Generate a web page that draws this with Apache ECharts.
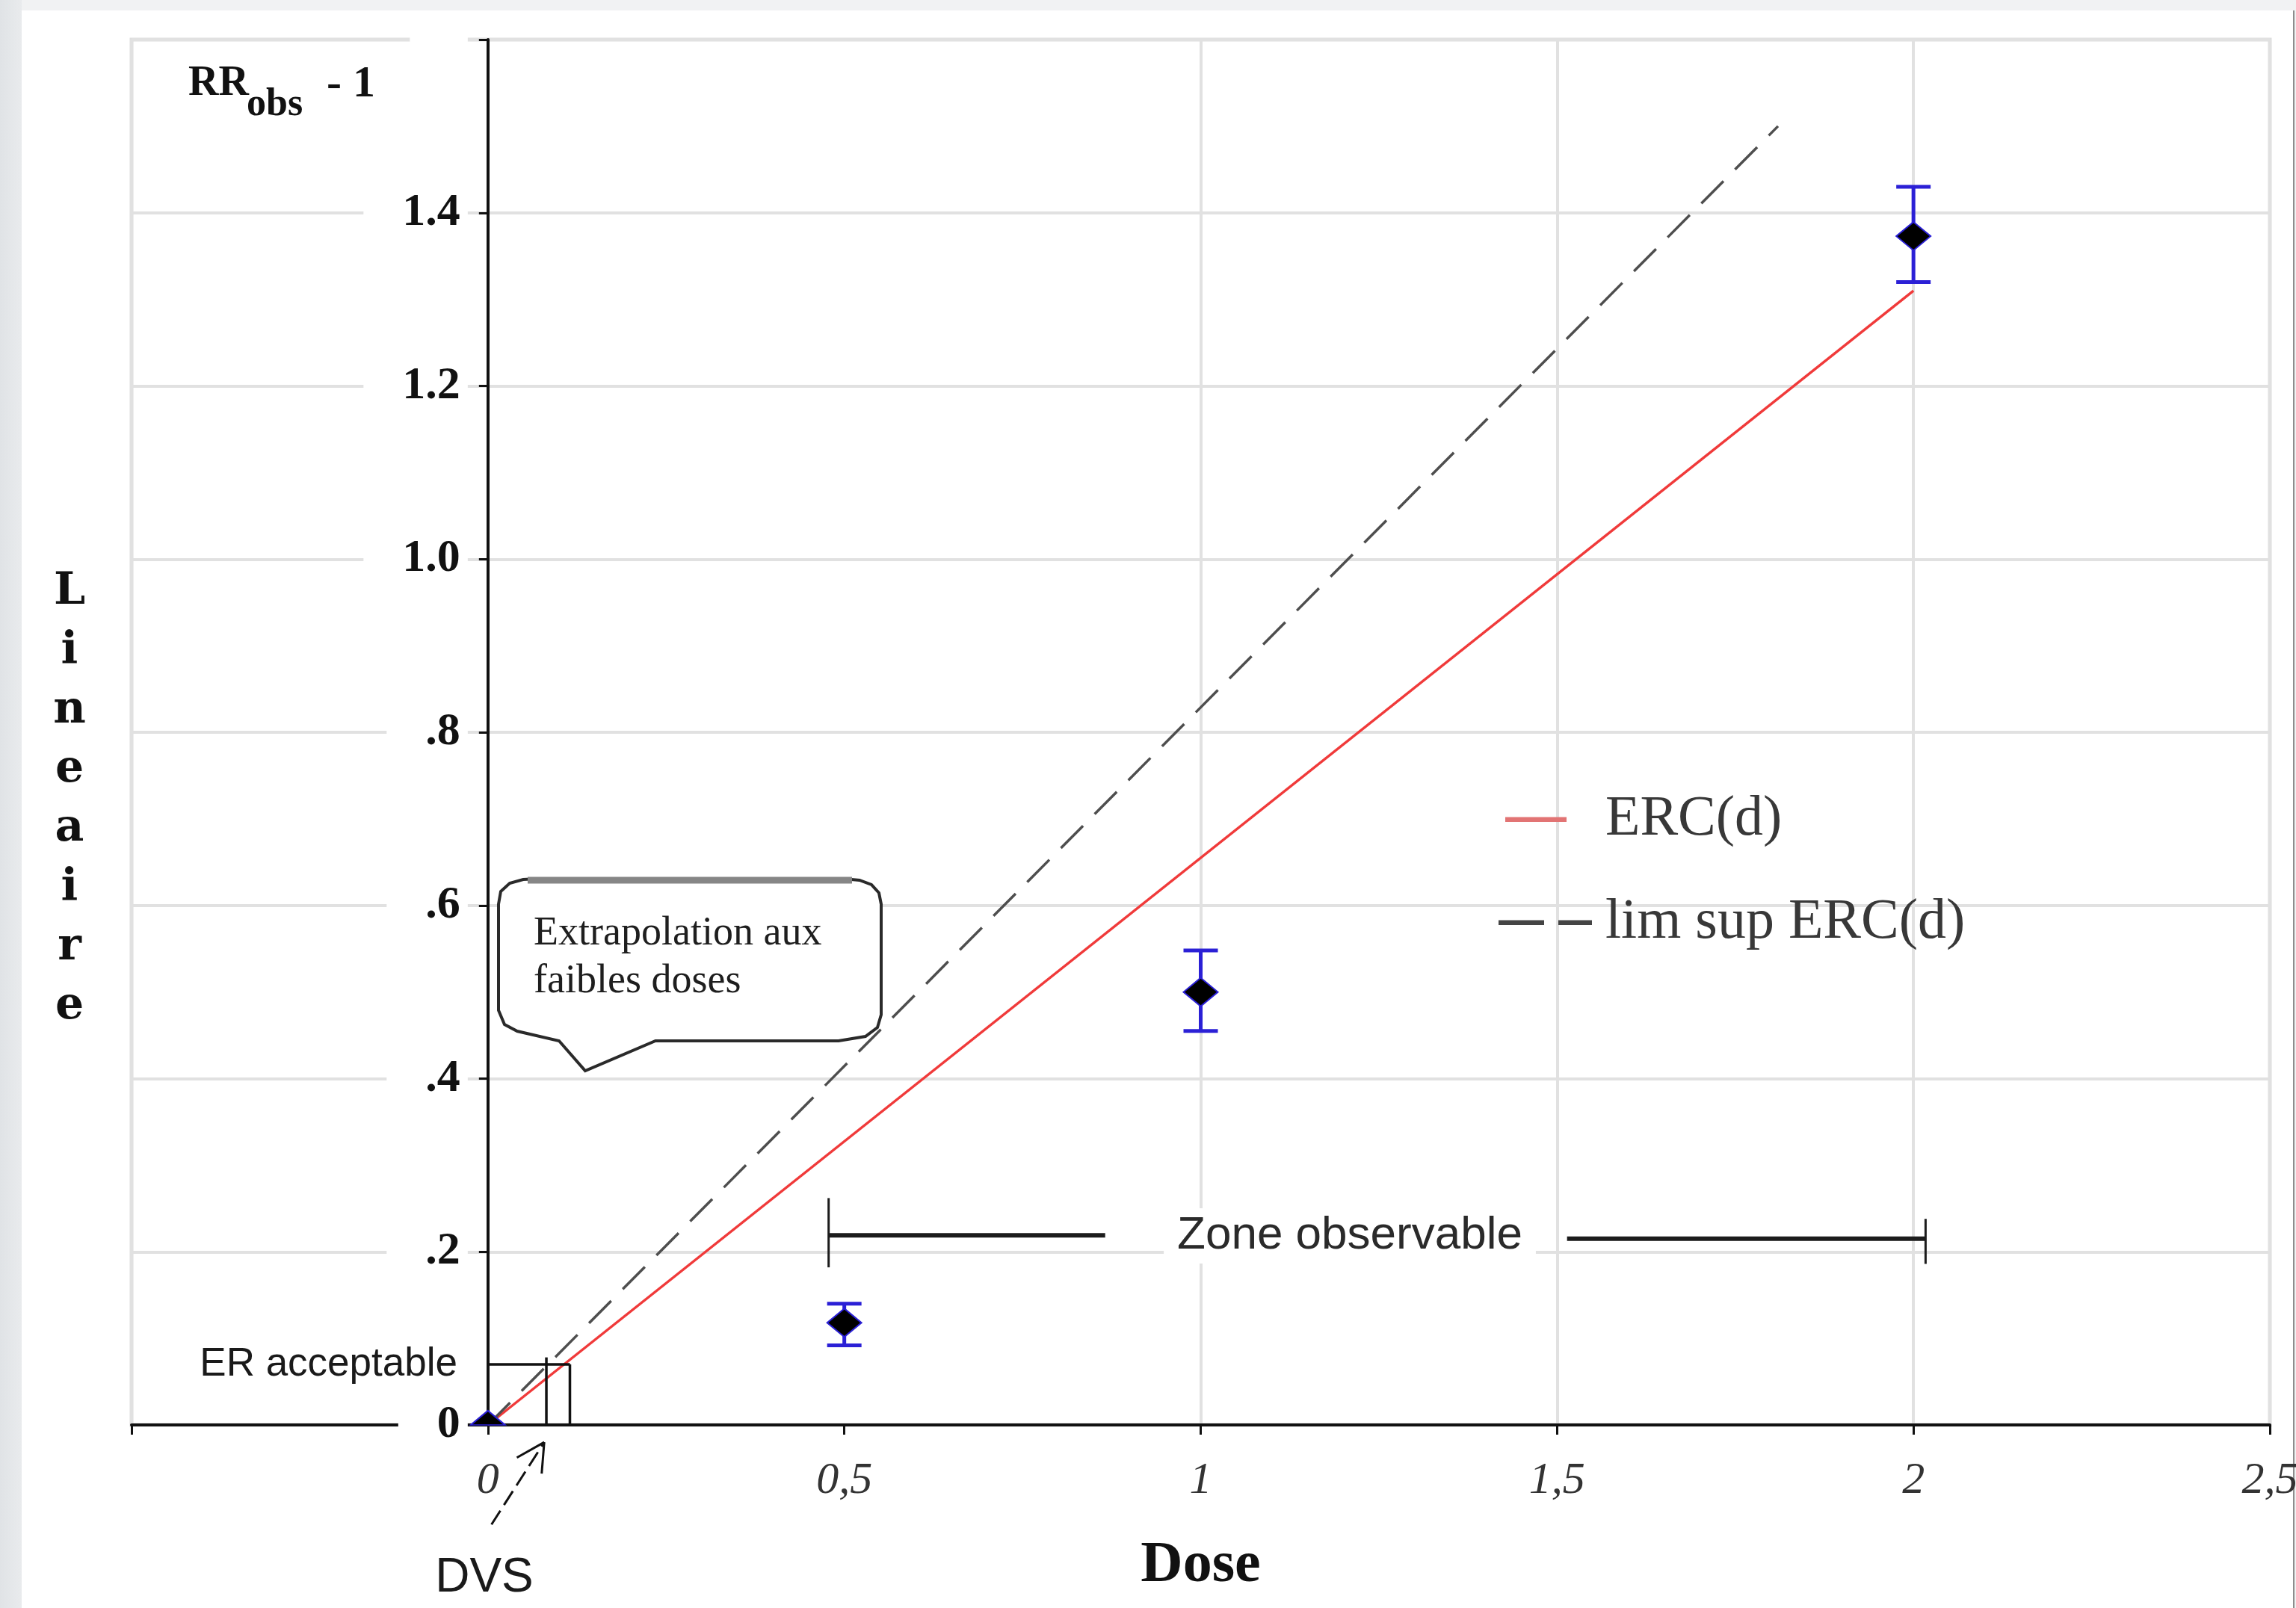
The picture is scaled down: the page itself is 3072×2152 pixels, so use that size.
<!DOCTYPE html>
<html>
<head>
<meta charset="utf-8">
<title>ERC(d) - extrapolation aux faibles doses</title>
<script src="https://cdn.jsdelivr.net/npm/echarts@6.0.0/dist/echarts.min.js"></script>
<style>
  html, body { margin: 0; padding: 0; width: 3072px; height: 2152px; overflow: hidden; background: #f1f2f3; }
  #side { position: absolute; left: 0; top: 0; width: 29px; height: 2152px; background: linear-gradient(to right, #e0e3e6, #e9ebed); }
  #card { position: absolute; left: 29px; top: 14px; width: 3041px; height: 2138px; background: #fff; border-right: 2px solid #8d8d8d; box-sizing: border-box; }
  #main { position: absolute; left: 0; top: 0; width: 3072px; height: 2152px; }
</style>
</head>
<body>
<div id="side"></div>
<div id="card"></div>
<div id="main"></div>
<script>
// valeurs
const doseObs = [0, 0.5, 1, 2];
const rrObs = [0, 0.118, 0.50, 1.373];
const rrLow = [0, 0.092, 0.455, 1.320];
const rrHigh = [0, 0.140, 0.548, 1.430];

// droites ERC(d) et limite superieure
const ercDose = [0, 2];
const ercVal = [0, 1.31];
const limDose = [0, 1.81];
const limVal = [0, 1.50];

// graduations
const xTickLabels = ['', '0', '0,5', '1', '1,5', '2', '2,5'];
const yTickLabels = ['0', '.2', '.4', '.6', '.8', '1.0', '1.2', '1.4', ' '];

// annotations en coordonnees du graphique [x1, y1, x2, y2]
const erSegments = [
  [0, 0.07, 0.115, 0.07],
  [0.082, 0, 0.082, 0.078],
  [0.115, 0, 0.115, 0.07]
];
const zoneSegments = [
  [0.478, 0.182, 0.478, 0.262],
  [0.478, 0.219, 0.866, 0.219],
  [1.514, 0.215, 2.017, 0.215],
  [2.017, 0.186, 2.017, 0.238]
];
const dvsArrow = [[0.005, -0.115, 0.079, -0.02]];

const chart = echarts.init(document.getElementById('main'));

function segRenderer(style) {
  return function (params, api) {
    const p1 = api.coord([api.value(0), api.value(1)]);
    const p2 = api.coord([api.value(2), api.value(3)]);
    return { type: 'line', shape: { x1: p1[0], y1: p1[1], x2: p2[0], y2: p2[1] }, style: style };
  };
}

const gridGray = '#e1e1e1';
const blue = '#2b20d6';

// grille : l'axe vertical est place a dose = 0
const gridLeft = 176, gridRight = 35;
const xMin = -0.5, xMax = 2.5;
const yAxisOffset = -(0 - xMin) / (xMax - xMin) * (3072 - gridLeft - gridRight);

// contour de la bulle (pixels)
const bubble = [
  [667, 1210], [670, 1193], [682, 1182], [700, 1177], [720, 1176], [1128, 1176], [1150, 1178], [1166, 1184], [1176, 1195], [1179, 1210],
  [1179, 1358], [1174, 1375], [1158, 1387], [1122, 1393], [877, 1393], [783, 1433], [748, 1393],
  [692, 1380], [675, 1371], [667, 1352]
];

chart.setOption({
  backgroundColor: 'transparent',
  animation: false,
  grid: {
    left: gridLeft, right: gridRight, top: 53, bottom: 245,
    show: true, borderColor: '#dedede', borderWidth: 5,
    containLabel: false, outerBoundsMode: 'none'
  },
  legend: {
    orient: 'vertical',
    left: 2004, top: 1057,
    padding: 0,
    itemWidth: 139, itemHeight: 12, itemGap: 58,
    selectedMode: false,
    textStyle: { fontFamily: 'Liberation Serif', fontSize: 76, color: '#383838', lineHeight: 80 },
    data: [
      { name: 'ERC(d)', icon: 'path://M0,0M139,12M10,2.5H92V9H10Z', itemStyle: { color: '#e27474', borderWidth: 0 } },
      { name: 'lim sup ERC(d)', icon: 'path://M0,0M139,12M1,2.5H62V9H1ZM81,2.5H126V9H81Z', itemStyle: { color: '#444', borderWidth: 0 } }
    ]
  },
  xAxis: {
    type: 'value',
    min: xMin, max: xMax, interval: 0.5,
    z: 1,
    name: 'Dose',
    nameLocation: 'middle',
    nameGap: 150,
    nameMoveOverlap: false,
    nameTextStyle: { fontFamily: 'Liberation Serif', fontWeight: 'bold', fontSize: 78, color: '#111' },
    axisLine: { show: true, onZero: true, lineStyle: { color: '#111', width: 4 } },
    axisTick: { show: true, length: 13, lineStyle: { color: '#111', width: 3 } },
    axisLabel: {
      show: true, margin: 45,
      fontFamily: 'Liberation Serif', fontStyle: 'italic', fontSize: 60, color: '#333',
      formatter: v => xTickLabels[Math.round((v - xMin) / 0.5)]
    },
    splitLine: {
      show: true,
      lineStyle: { width: 4, color: [gridGray, gridGray, 'rgba(0,0,0,0)', gridGray, gridGray, gridGray, gridGray] }
    }
  },
  yAxis: {
    type: 'value',
    min: 0, max: 1.6, interval: 0.2,
    z: 2,
    position: 'left',
    offset: yAxisOffset,
    axisLine: { show: true, onZero: false, lineStyle: { color: '#111', width: 4 } },
    axisTick: { show: true, length: 12, lineStyle: { color: '#111', width: 3 } },
    axisLabel: {
      show: true, margin: 27,
      fontFamily: 'Liberation Serif', fontWeight: 'bold', fontSize: 62, color: '#111',
      backgroundColor: '#fff', padding: [6, 10, 6, 52],
      formatter: v => yTickLabels[Math.round(v / 0.2)]
    },
    splitLine: { show: true, showMinLine: false, lineStyle: { color: gridGray, width: 4 } }
  },
  series: [
    {
      type: 'line', name: 'ERC(d)',
      data: ercDose.map((d, i) => [d, ercVal[i]]),
      symbol: 'none', silent: true, z: 2,
      lineStyle: { color: '#f03a3a', width: 3.5 },
      itemStyle: { color: '#e27474' }
    },
    {
      type: 'line', name: 'lim sup ERC(d)',
      data: limDose.map((d, i) => [d, limVal[i]]),
      symbol: 'none', silent: true, z: 2,
      lineStyle: { color: '#4e4e4e', width: 3.5, type: [42, 22] },
      itemStyle: { color: '#444' }
    },
    {
      type: 'custom', name: 'ER acceptable', silent: true, z: 3,
      data: erSegments, encode: { x: [0, 2], y: [1, 3] },
      renderItem: segRenderer({ stroke: '#111', lineWidth: 3.5 })
    },
    {
      type: 'custom', name: 'Zone observable', silent: true, z: 3,
      data: zoneSegments, encode: { x: [0, 2], y: [1, 3] },
      renderItem: function (params, api) {
        const p1 = api.coord([api.value(0), api.value(1)]);
        const p2 = api.coord([api.value(2), api.value(3)]);
        const vertical = Math.abs(p1[0] - p2[0]) < 1;
        return { type: 'line', shape: { x1: p1[0], y1: p1[1], x2: p2[0], y2: p2[1] },
          style: { stroke: '#1c1c1c', lineWidth: vertical ? 3 : 6 } };
      }
    },
    {
      type: 'custom', name: 'DVS', silent: true, z: 3, clip: false,
      data: dvsArrow, encode: { x: [0, 2], y: [1, 3] },
      renderItem: function (params, api) {
        const p1 = api.coord([api.value(0), api.value(1)]);
        const p2 = api.coord([api.value(2), api.value(3)]);
        const ang = Math.atan2(p1[1] - p2[1], p1[0] - p2[0]);
        const len = 42, spread = 28 * Math.PI / 180;
        const b1 = [p2[0] + len * Math.cos(ang + spread), p2[1] + len * Math.sin(ang + spread)];
        const b2 = [p2[0] + len * Math.cos(ang - spread), p2[1] + len * Math.sin(ang - spread)];
        const solid = { stroke: '#111', lineWidth: 3 };
        return { type: 'group', children: [
          { type: 'line', shape: { x1: p1[0], y1: p1[1], x2: p2[0], y2: p2[1] },
            style: { stroke: '#111', lineWidth: 3, lineDash: [22, 9] } },
          { type: 'line', shape: { x1: p2[0], y1: p2[1], x2: b1[0], y2: b1[1] }, style: solid },
          { type: 'line', shape: { x1: p2[0], y1: p2[1], x2: b2[0], y2: b2[1] }, style: solid }
        ] };
      }
    },
    {
      type: 'custom', name: 'IC', silent: true, z: 4,
      data: doseObs.map((d, i) => [d, rrLow[i], rrHigh[i]]).filter(r => r[2] > r[1]),
      encode: { x: 0, y: [1, 2] },
      renderItem: function (params, api) {
        const x = api.value(0);
        const lo = api.coord([x, api.value(1)]);
        const hi = api.coord([x, api.value(2)]);
        const h = 23;
        const st = { stroke: blue, lineWidth: 5 };
        return { type: 'group', children: [
          { type: 'line', shape: { x1: lo[0], y1: lo[1], x2: hi[0], y2: hi[1] }, style: st },
          { type: 'line', shape: { x1: lo[0] - h, y1: lo[1], x2: lo[0] + h, y2: lo[1] }, style: st },
          { type: 'line', shape: { x1: hi[0] - h, y1: hi[1], x2: hi[0] + h, y2: hi[1] }, style: st }
        ] };
      }
    },
    {
      type: 'scatter', name: 'RR obs', silent: true, z: 5,
      symbol: 'diamond', symbolSize: [46, 38],
      itemStyle: { color: '#000', borderColor: blue, borderWidth: 2, opacity: 1 },
      data: doseObs.map((d, i) => i === 0
        ? { value: [d, rrObs[i]], symbol: 'triangle', symbolSize: [46, 19], symbolOffset: [0, -9.5] }
        : [d, rrObs[i]])
    }
  ],
  graphic: [
    // titre de l'axe vertical
    { type: 'text', x: 252, y: 113, z: 10, style: { text: 'RR', fontFamily: 'Liberation Serif', fontWeight: 'bold', fontSize: 56, fill: '#111', verticalAlign: 'middle' } },
    { type: 'text', x: 330, y: 141, z: 10, style: { text: 'obs', fontFamily: 'Liberation Serif', fontWeight: 'bold', fontSize: 52, fill: '#111', verticalAlign: 'middle' } },
    { type: 'text', x: 437, y: 113, z: 10, style: { text: '- 1', fontFamily: 'Liberation Serif', fontWeight: 'bold', fontSize: 60, fill: '#111', verticalAlign: 'middle' } },
    { type: 'text', x: 93, y: 753, z: 10, style: { text: 'L\ni\nn\ne\na\ni\nr\ne', fontFamily: 'DejaVu Serif', fontWeight: 'bold', fontSize: 60, lineHeight: 79.3, fill: '#111', align: 'center', verticalAlign: 'top' } },
    // bulle
    { type: 'polygon', z: 10, shape: { points: bubble }, style: { fill: '#fff', stroke: '#2a2a2a', lineWidth: 4 } },
    { type: 'line', z: 10, shape: { x1: 706, y1: 1178, x2: 1140, y2: 1178 }, style: { stroke: '#868686', lineWidth: 9 } },
    { type: 'text', x: 714, y: 1218, z: 11, style: { text: 'Extrapolation aux\nfaibles doses', fontFamily: 'Liberation Serif', fontSize: 54, lineHeight: 64, fill: '#1e1e1e', verticalAlign: 'top' } },
    // textes d'annotation
    { type: 'text', x: 612, y: 1826, z: 10, style: { text: 'ER acceptable', fontFamily: 'Liberation Sans', fontSize: 53, fill: '#1a1a1a', align: 'right', verticalAlign: 'middle' } },
    { type: 'text', x: 1806, y: 1654, z: 10, style: { text: 'Zone observable', fontFamily: 'Liberation Sans', fontSize: 62, fill: '#2a2a2a', align: 'center', verticalAlign: 'middle', backgroundColor: '#fff', padding: [6, 18] } },
    { type: 'text', x: 648, y: 2112, z: 10, style: { text: 'DVS', fontFamily: 'Liberation Sans', fontSize: 64, fill: '#1a1a1a', align: 'center', verticalAlign: 'middle' } }
  ]
});
</script>
</body>
</html>
